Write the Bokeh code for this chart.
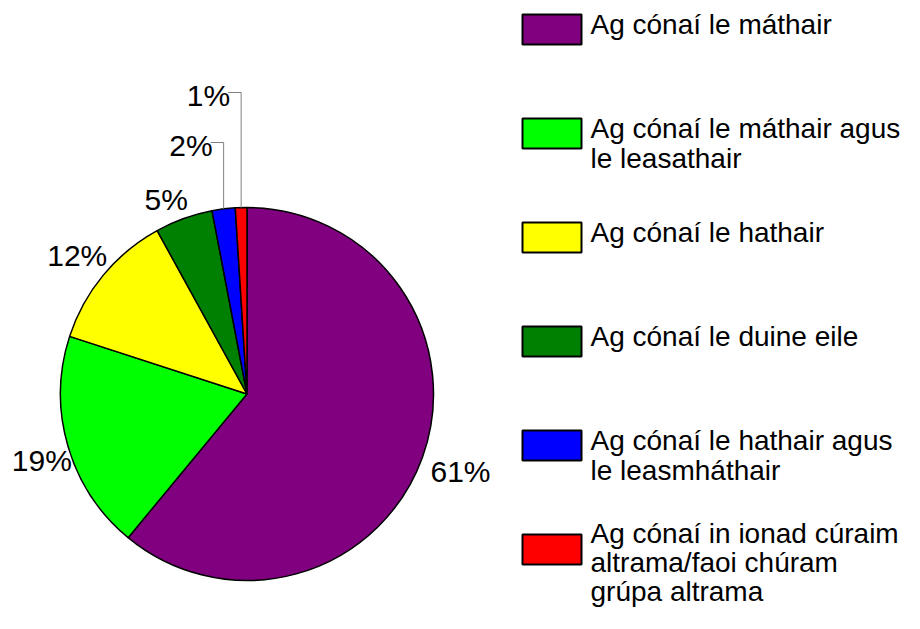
import math
from bokeh.plotting import figure
from bokeh.models import Range1d, ColumnDataSource
from bokeh.core.properties import value
from bokeh.embed import file_html
from bokeh.resources import INLINE

# ---- data ----
categories = [
    "Ag cónaí le máthair",
    "Ag cónaí le máthair agus\nle leasathair",
    "Ag cónaí le hathair",
    "Ag cónaí le duine eile",
    "Ag cónaí le hathair agus\nle leasmháthair",
    "Ag cónaí in ionad cúraim\naltrama/faoi chúram\ngrúpa altrama",
]
percent = [61, 19, 12, 5, 2, 1]
colors = ["#800080", "#00FF00", "#FFFF00", "#008000", "#0000FF", "#FF0000"]

# ---- layout (figure pixel coordinates, y measured from the top) ----
W, H = 904, 613
FONT = value("Liberation Sans")
TEXT_DY = 10.5  # compensation for the renderer's baseline placement


def py(page_y):
    return H - page_y


p = figure(width=W, height=H, x_range=Range1d(0, W), y_range=Range1d(0, H),
           output_backend="svg", toolbar_location=None, x_axis_location=None, y_axis_location=None,
           min_border=0, min_border_left=0, min_border_right=0, min_border_top=0, min_border_bottom=0)
p.grid.visible = False
p.outline_line_color = None
p.background_fill_color = "white"
p.border_fill_color = "white"

# ---- pie ----
cx, cy, R = 246.5, py(393.5), 186.5
total = float(sum(percent))
starts, ends = [], []
cum = 0.0
for v in percent:
    starts.append(math.pi / 2 - 2 * math.pi * cum / total)
    cum += v
    ends.append(math.pi / 2 - 2 * math.pi * cum / total)

src = ColumnDataSource(dict(start=starts, end=ends, color=colors))
p.wedge(x=cx, y=cy, radius=R, start_angle="start", end_angle="end", direction="clock",
        fill_color="color", line_color="black", line_width=1.5, source=src)

# ---- percentage labels ----
LABEL_SIZE = "30px"
CAP = 0.716 * 30
leader_rise = [65, 115]
k = 0
for v, s, e in zip(percent, starts, ends):
    mid = (s + e) / 2
    ex = cx + R * math.cos(mid)
    ey = cy + R * math.sin(mid)
    txt = "%d%%" % v
    if v >= 5:
        if math.cos(mid) > 0:
            align, tx = "left", ex + 8
        else:
            align, tx = "right", ex + 4
        if math.sin(mid) > 0:
            ty = ey + 9
        else:
            ty = ey - 3 - CAP
        p.text(x=[tx], y=[ty + TEXT_DY], text=[txt], text_font=FONT, text_font_size=LABEL_SIZE,
               text_align=align, text_baseline="alphabetic", text_color="black")
    else:
        top = cy + R + leader_rise[k]
        k += 1
        hx = ex - 13
        p.line(x=[ex, ex, hx], y=[ey, top, top], line_color="#808080", line_width=1)
        p.text(x=[hx + 2], y=[top - 13 + TEXT_DY], text=[txt], text_font=FONT, text_font_size=LABEL_SIZE,
               text_align="right", text_baseline="alphabetic", text_color="black")

# ---- legend ----
box_l, box_r = 522, 581
text_x = 590
first_top, step, box_h = 14, 104, 30
for i, (cat, col) in enumerate(zip(categories, colors)):
    top = first_top + step * i
    p.quad(left=[box_l], right=[box_r], top=[py(top)], bottom=[py(top + box_h)],
           fill_color=col, line_color="black", line_width=2)
    lines = cat.split("\n")
    if len(lines) < 3:
        base, gap = top + 20, 30
    else:
        base, gap = top + 9, 29
    ys = [py(base + gap * j) + TEXT_DY for j in range(len(lines))]
    p.text(x=[text_x] * len(lines), y=ys, text=lines, text_font=FONT, text_font_size="28px",
           text_align="left", text_baseline="alphabetic", text_color="black")

open("out.html", "w").write(file_html(p, INLINE))
